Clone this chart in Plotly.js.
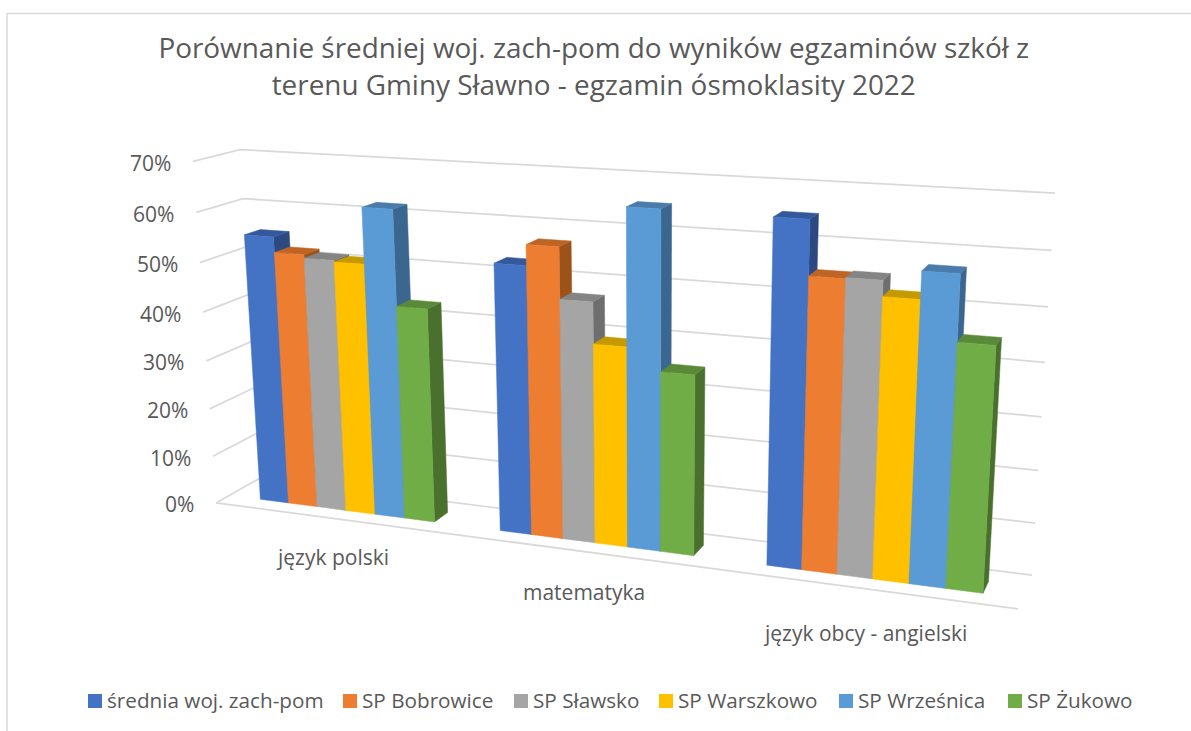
<!DOCTYPE html>
<html><head><meta charset="utf-8">
<script src="https://cdn.plot.ly/plotly-3.0.1.min.js"></script>
<style>html,body{margin:0;padding:0;background:#fff;overflow:hidden}</style>
</head><body><div id="chart" style="width:1191px;height:731px"></div>
<script>
const titleText = 'Porównanie średniej woj. zach-pom do wyników egzaminów szkół z<br>terenu Gminy Sławno - egzamin ósmoklasity 2022';
const categories = ['język polski', 'matematyka', 'język obcy - angielski'];
const seriesNames = ['średnia woj. zach-pom', 'SP Bobrowice', 'SP Sławsko', 'SP Warszkowo', 'SP Wrześnica', 'SP Żukowo'];
const srednia   = [55.1, 53.1, 65.1];
const bobrowice = [52.0, 57.1, 55.0];
const slawsko   = [51.3, 47.2, 55.2];
const warszkowo = [51.0, 39.2, 52.3];
const wrzesnia  = [62.1, 65.3, 57.3];
const zukowo    = [43.2, 35.1, 45.3];
const seriesValues = [srednia, bobrowice, slawsko, warszkowo, wrzesnia, zukowo];
const yTicks = [0, 10, 20, 30, 40, 50, 60, 70];

const frontColors = ['#4472C4', '#ED7D31', '#A5A5A5', '#FFC000', '#5B9BD5', '#70AD47'];
const topColors   = ['#34589B', '#BE6526', '#848484', '#C49A00', '#4A7CAB', '#5A8A39'];
const sideColors  = ['#2C4A80', '#9C5319', '#6E6E6E', '#9A7700', '#3A668F', '#4A702E'];

// Camera calibration of the 3-D box: (along, depth, height) -> page pixel
const calib = [
  [0,0,0, 216,504],[1,0,0, 1018,608],[0,1,0, 260,477],[1,1,0, 1032,576],
  [0,0,1, 193,161],[0,1,1, 240,150],[1,1,1, 1055,193]
];
function solveCamera() {
  const A = [], B = [];
  calib.forEach(([u,v,w,x,y]) => {
    x/=1000; y/=1000;
    A.push([u,v,w,1, 0,0,0,0, -x*u,-x*v,-x*w]); B.push(x);
    A.push([0,0,0,0, u,v,w,1, -y*u,-y*v,-y*w]); B.push(y);
  });
  const n = 11, M = [];
  for (let i=0;i<n;i++){ M.push([]); for (let j=0;j<=n;j++){ let s=0;
    for (let r=0;r<A.length;r++) s += A[r][i]*(j<n?A[r][j]:B[r]);
    M[i].push(s);} }
  for (let i=0;i<n;i++){ let p=i; for(let r=i+1;r<n;r++) if(Math.abs(M[r][i])>Math.abs(M[p][i])) p=r;
    [M[i],M[p]]=[M[p],M[i]];
    for(let r=0;r<n;r++){ if(r===i) continue; const f=M[r][i]/M[i][i];
      for(let c=i;c<=n;c++) M[r][c]-=f*M[i][c]; } }
  return M.map((row,i)=>row[n]/row[i]);
}
const cam = solveCamera();
function project(u,v,w){
  const d = cam[8]*u+cam[9]*v+cam[10]*w+1;
  return [1000*(cam[0]*u+cam[1]*v+cam[2]*w+cam[3])/d, 1000*(cam[4]*u+cam[5]*v+cam[6]*w+cam[7])/d];
}
const maxV = 70, depth0 = 0.30, depth1 = 0.65, slotBars = 8.15, sideGap = 1.11;
const uOf = (cat, pos) => (cat + (sideGap + pos)/slotBars)/categories.length;

const traces = [];
function poly(pts, color, name){
  const p = pts.map(a=>project(a[0],a[1],a[2]));
  traces.push({type:'scatter',mode:'lines',x:p.map(q=>q[0]).concat(p[0][0]),y:p.map(q=>q[1]).concat(p[0][1]),
    fill:'toself',fillcolor:color,line:{color:color,width:0.5},hoverinfo:'skip',showlegend:false,name:name});
}
// gridlines
const gx=[], gy=[];
yTicks.forEach(t=>{ const w=t/maxV;
  [[0,0,w],[0,1,w],[1,1,w]].forEach(a=>{const q=project(a[0],a[1],a[2]);gx.push(q[0]);gy.push(q[1]);});
  gx.push(null);gy.push(null);
});
[[0,0,0],[1,0,0]].forEach(a=>{const q=project(a[0],a[1],a[2]);gx.push(q[0]);gy.push(q[1]);});
traces.push({type:'scatter',mode:'lines',x:gx,y:gy,line:{color:'#D9D9D9',width:1.75},hoverinfo:'skip',showlegend:false});

// bars
categories.forEach((c,ci)=>{
  seriesNames.forEach((s,si)=>{
    const u0=uOf(ci,si), u1=uOf(ci,si+1), w=seriesValues[si][ci]/maxV;
    poly([[u1,depth0,0],[u1,depth1,0],[u1,depth1,w],[u1,depth0,w]], sideColors[si], s);
    poly([[u0,depth0,w],[u1,depth0,w],[u1,depth1,w],[u0,depth1,w]], topColors[si], s);
    poly([[u0,depth0,0],[u1,depth0,0],[u1,depth0,w],[u0,depth0,w]], frontColors[si], s);
  });
});

const annotations = [];
const fontFam = '"Open Sans", "Noto Sans", sans-serif';
const labelFont = {family:fontFam,size:21,color:'#595959'};
const legendFont = {family:fontFam,size:20.7,color:'#595959'};

// legend keys
const legendX = [88, 343, 514, 659, 839, 1008];
seriesNames.forEach((s,i)=>{
  traces.push({type:'scatter',mode:'markers',x:[legendX[i]+7],y:[701],
    marker:{symbol:'square',size:14,color:frontColors[i]},hoverinfo:'skip',showlegend:false,name:s});
  annotations.push({x:legendX[i]+17,y:700,text:s,xanchor:'left',yanchor:'middle',showarrow:false,font:legendFont});
});

yTicks.forEach(t=>{ const q=project(0,0,t/maxV);
  annotations.push({x:q[0]-20,y:q[1]+1.5,text:t+'%',xanchor:'right',yanchor:'middle',showarrow:false,font:labelFont});
});
const labelDrop = [39, 40, 44];
categories.forEach((c,i)=>{ const q=project((i+0.5)/categories.length,0,0);
  annotations.push({x:q[0],y:q[1]+labelDrop[i],text:c,xanchor:'center',yanchor:'middle',showarrow:false,font:labelFont});
});

const layout = {
  width:1191,height:731,margin:{l:0,r:0,t:0,b:0},paper_bgcolor:'#fff',plot_bgcolor:'#fff',showlegend:false,
  title:{text:titleText,x:0.4985,xanchor:'center',y:0.92,yanchor:'middle',font:{family:fontFam,size:27.9,color:'#595959'}},
  xaxis:{range:[0,1191],visible:false,fixedrange:true},
  yaxis:{range:[731,0],visible:false,fixedrange:true},
  annotations:annotations,
  shapes:[
    {type:'line',xref:'x',yref:'y',x0:7,y0:13.5,x1:1191,y1:13.5,line:{color:'#D9D9D9',width:1.5}},
    {type:'line',xref:'x',yref:'y',x0:7,y0:13.5,x1:7,y1:731,line:{color:'#D9D9D9',width:1.5}}
  ]
};
Plotly.newPlot('chart',traces,layout,{displayModeBar:false,staticPlot:true});
</script></body></html>
